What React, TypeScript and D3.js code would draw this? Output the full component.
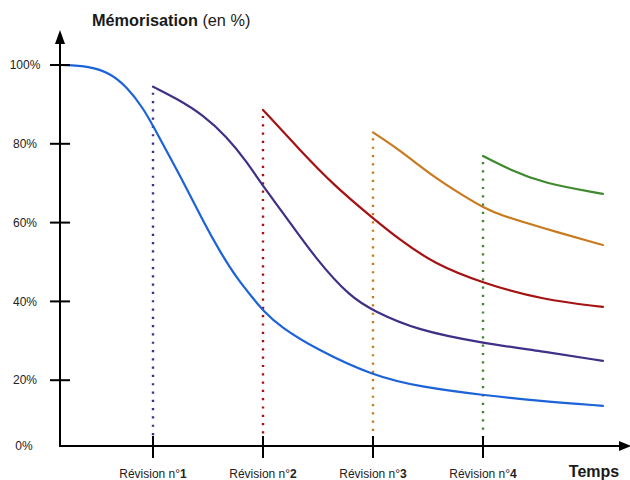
import React from "react";
import * as d3 from "d3";

// time in "revision units" (revision k at t = k)
const blueT = [0.155, 0.427, 0.609, 0.761, 0.912, 1.003, 1.125, 1.306, 1.457, 1.609, 1.761, 1.912, 2.003, 2.155, 2.488, 3.0, 3.427, 4.0, 4.518, 5.09];
const blueV = [100, 99.7, 97.9, 94.5, 89, 84.4, 78.1, 68.7, 60.3, 52.6, 45.9, 40.7, 37.6, 33.6, 27.8, 21.1, 18.3, 16.2, 14.7, 13.5];

const purpleT = [1.0, 1.215, 1.457, 1.67, 1.852, 2.003, 2.185, 2.488, 2.791, 3.003, 3.397, 4.003, 4.518, 5.09];
const purpleV = [94.5, 91.5, 87.3, 81.8, 75.5, 69.1, 62.4, 50.5, 41.2, 37.6, 32.7, 29.4, 27.4, 24.9];

const redT = [2.0, 2.336, 2.639, 3.0, 3.245, 3.548, 4.0, 4.545, 5.09];
const redV = [88.6, 78.4, 69.6, 61.1, 55.6, 49.7, 44.6, 40.4, 38.6];

const orangeT = [3.0, 3.245, 3.548, 3.852, 4.0, 4.155, 4.545, 5.09];
const orangeV = [82.9, 78.4, 71.6, 66.3, 63.9, 61.9, 58.6, 54.3];

const greenT = [4.0, 4.245, 4.545, 5.09];
const greenV = [76.9, 73.4, 70, 67.3];

const yTicks = [100, 80, 60, 40, 20];
const revisions = [1, 2, 3, 4];

const colors = {
  blue: "#1c62d8",
  purple: "#402f86",
  red: "#a51212",
  orange: "#c97a1e",
  green: "#3f8a2e",
};

const FONT = "'Liberation Sans', Arial, Helvetica, sans-serif";

export default function App() {
  const x = d3.scaleLinear().domain([0, 5]).range([43, 593]);
  const y = d3.scaleLinear().domain([0, 100]).range([459, 65]);
  const axisX = 60;
  const axisY = 446;

  const line = d3
    .line<[number, number]>()
    .x((d) => x(d[0]))
    .y((d) => y(d[1]))
    .curve(d3.curveBasis);

  const series = [
    { t: blueT, v: blueV, c: colors.blue, dotted: false },
    { t: purpleT, v: purpleV, c: colors.purple, dotted: true },
    { t: redT, v: redV, c: colors.red, dotted: true },
    { t: orangeT, v: orangeV, c: colors.orange, dotted: true },
    { t: greenT, v: greenV, c: colors.green, dotted: true },
  ];

  return (
    <svg
      width={630}
      height={480}
      style={{ position: "absolute", left: 0, top: 0, background: "#fff" }}
      fontFamily={FONT}
    >
      {/* title */}
      <text x={92} y={26} fontSize={16.3} fill="#1a1a1a">
        <tspan fontWeight="bold">Mémorisation</tspan>
        <tspan> (en %)</tspan>
      </text>

      {/* dotted revision lines */}
      {series
        .filter((s) => s.dotted)
        .map((s, i) => (
          <line
            key={"d" + i}
            x1={x(s.t[0])}
            x2={x(s.t[0])}
            y1={y(s.v[0]) + 6}
            y2={axisY - 8}
            stroke={s.c}
            strokeWidth={2.4}
            strokeDasharray="2.2 6.1"
          />
        ))}

      {/* curves */}
      {series.map((s, i) => (
        <path
          key={"c" + i}
          d={line(s.t.map((t, j) => [t, s.v[j]] as [number, number])) || ""}
          fill="none"
          stroke={s.c}
          strokeWidth={2.2}
          strokeLinecap="round"
        />
      ))}

      {/* y axis */}
      <line x1={axisX} x2={axisX} y1={axisY + 1} y2={40} stroke="#000" strokeWidth={2} />
      <path d={`M${axisX},30 L${axisX - 5},44 L${axisX + 5},44 Z`} fill="#000" />
      {yTicks.map((v) => (
        <g key={v}>
          <line x1={50} x2={70} y1={y(v)} y2={y(v)} stroke="#000" strokeWidth={2} />
          <text x={25} y={y(v)} dy="0.35em" textAnchor="middle" fontSize={12} fill="#222">
            {v}%
          </text>
        </g>
      ))}
      <text x={24} y={axisY} dy="0.35em" textAnchor="middle" fontSize={12} fill="#222">
        0%
      </text>

      {/* x axis */}
      <line x1={axisX - 1} x2={622} y1={axisY} y2={axisY} stroke="#000" strokeWidth={2} />
      <path d={`M631,${axisY} L619,${axisY - 5} L619,${axisY + 5} Z`} fill="#000" />
      {revisions.map((r) => (
        <g key={r}>
          <line x1={x(r)} x2={x(r)} y1={axisY - 10} y2={axisY + 12} stroke="#000" strokeWidth={2} />
          <text x={x(r)} y={478} textAnchor="middle" fontSize={12} fill="#222">
            <tspan>Révision n°</tspan>
            <tspan fontWeight="bold">{r}</tspan>
          </text>
        </g>
      ))}
      <text x={594} y={477} textAnchor="middle" fontSize={16} fontWeight="bold" fill="#1a1a1a">
        Temps
      </text>
    </svg>
  );
}
